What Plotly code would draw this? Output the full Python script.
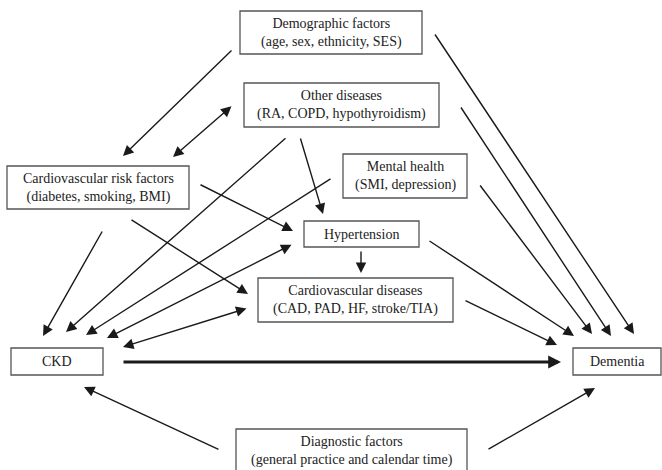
import plotly.graph_objects as go

# ---- diagram content (data) ----
node_ids = ["demo", "other", "cvrf", "mental", "htn", "cvd", "ckd", "dem", "diag"]
node_titles = ["Demographic factors", "Other diseases", "Cardiovascular risk factors",
               "Mental health", "Hypertension", "Cardiovascular diseases", "CKD",
               "Dementia", "Diagnostic factors"]
node_details = ["(age, sex, ethnicity, SES)", "(RA, COPD, hypothyroidism)",
                "(diabetes, smoking, BMI)", "(SMI, depression)", "",
                "(CAD, PAD, HF, stroke/TIA)", "", "",
                "(general practice and calendar time)"]

edge_from = ["demo", "other", "other", "other", "cvrf", "cvrf", "cvrf", "mental",
             "htn", "cvd", "ckd", "diag", "diag", "htn", "cvd", "mental", "other",
             "demo", "htn"]
edge_to = ["cvrf", "cvrf", "ckd", "htn", "htn", "cvd", "ckd", "ckd",
           "ckd", "ckd", "dem", "ckd", "dem", "dem", "dem", "dem", "dem",
           "dem", "cvd"]
edge_kind = ["single", "double", "single", "single", "single", "single", "single", "single",
             "double", "double", "main", "single", "single", "single", "single", "single",
             "single", "single", "single"]

# ---- layout geometry (pixel canvas 662 x 470) ----
box = {  # x0, x1, y0, y1
    "demo": (240, 422, 11, 54),
    "other": (244, 439, 83, 127),
    "cvrf": (7, 189, 166, 209),
    "mental": (343, 467, 154, 198),
    "htn": (304, 419, 221, 247),
    "cvd": (258, 453, 278, 322),
    "ckd": (11, 103, 348, 375),
    "dem": (573, 661, 348, 375),
    "diag": (236, 467, 429, 480),
}
text_y = {"diag": 450.5}
# tail (x, y) -> head (x, y) per edge, same order as edge lists
edge_geom = [
    ((233, 49), (123, 156)),
    ((233, 105), (173, 157)),
    ((287, 137), (66, 332)),
    ((300, 137), (323, 214)),
    ((199, 184), (293, 231)),
    ((130, 219), (248, 294)),
    ((103, 230), (43, 336)),
    ((332, 178), (86, 335)),
    ((293, 244), (107, 338)),
    ((248, 308), (123, 347)),
    ((122, 362), (561, 362)),
    ((220, 450), (84, 387)),
    ((487, 450), (595, 388)),
    ((428, 240), (574, 336)),
    ((464, 300), (557, 345)),
    ((479, 184), (592, 334)),
    ((460, 106), (611, 336)),
    ((434, 33), (634, 334)),
    ((361, 250), (361, 273)),
]

W, H = 662, 470
LINE = "#1a1a1a"
FONT = dict(family="Liberation Serif", size=14, color="#222")

fig = go.Figure()
fig.add_trace(go.Scatter(x=[0, W], y=[0, H], mode="markers",
                         marker=dict(opacity=0), hoverinfo="skip", showlegend=False))

shapes = []
annotations = []
for nid, title, detail in zip(node_ids, node_titles, node_details):
    x0, x1, y0, y1 = box[nid]
    shapes.append(dict(type="rect", xref="x", yref="y", x0=x0, x1=x1, y0=y0, y1=y1,
                       line=dict(color="#555", width=1.3), fillcolor="white", layer="below"))
    cy = text_y.get(nid, (y0 + y1) / 2)
    txt = title if not detail else f"{title}<br>{detail}"
    annotations.append(dict(x=(x0 + x1) / 2, y=cy, xref="x", yref="y", text=txt,
                            showarrow=False, font=FONT, align="center"))

for kind, ((tx, ty), (hx, hy)) in zip(edge_kind, edge_geom):
    a = dict(x=hx, y=hy, ax=tx, ay=ty, xref="x", yref="y", axref="x", ayref="y",
             text="", showarrow=True, arrowcolor=LINE, arrowhead=2, arrowsize=1.5,
             arrowwidth=1.4, standoff=0, startstandoff=0)
    if kind == "double":
        a.update(arrowside="end+start", startarrowhead=2, startarrowsize=1.5)
    elif kind == "main":
        a.update(arrowwidth=3.2, arrowsize=0.8)
    annotations.append(a)

fig.update_layout(
    width=W, height=H, margin=dict(l=0, r=0, t=0, b=0),
    paper_bgcolor="white", plot_bgcolor="white",
    xaxis=dict(range=[0, W], visible=False, fixedrange=True),
    yaxis=dict(range=[H, 0], visible=False, fixedrange=True),
    shapes=shapes, annotations=annotations, showlegend=False,
)
fig.write_html("out.html", config={"displayModeBar": False},
               post_script="document.body.style.margin='0';document.body.style.overflow='hidden';")
